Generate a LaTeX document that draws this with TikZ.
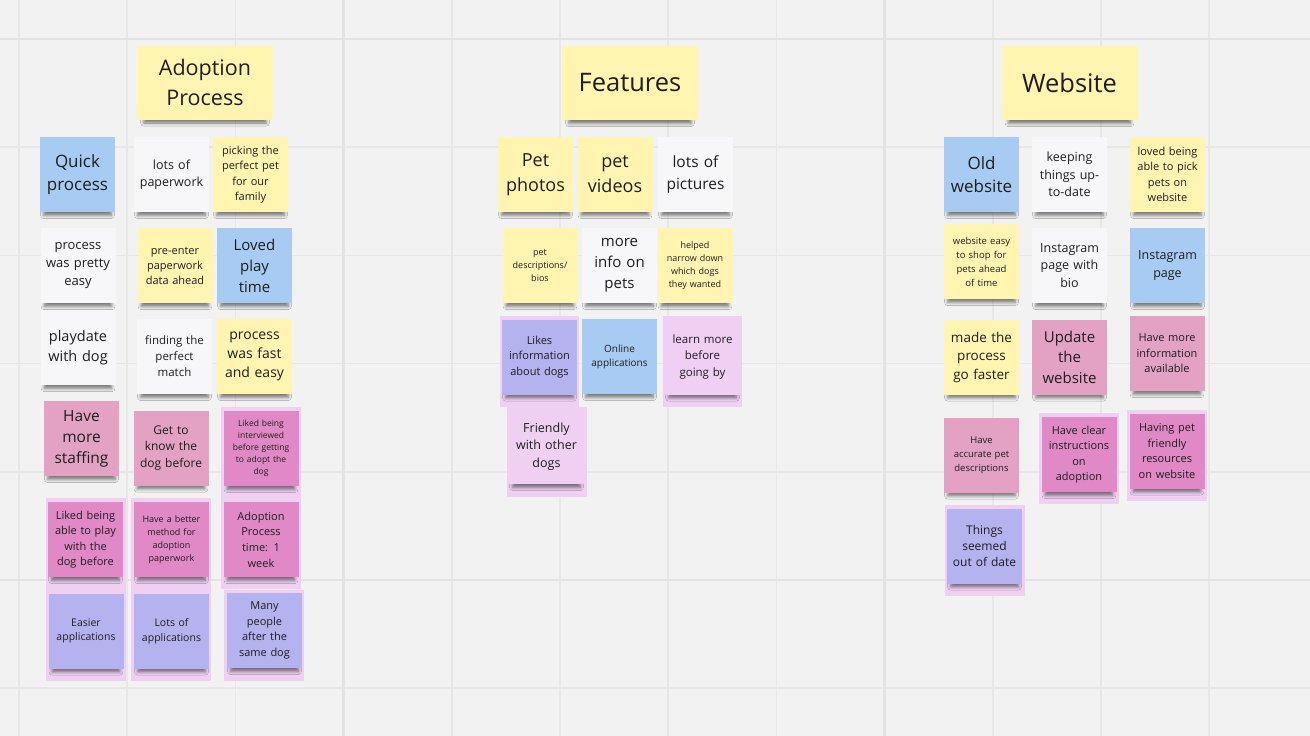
\documentclass[tikz,border=0pt]{standalone}
\usepackage{fontspec}
\setmainfont{Open Sans}
\usetikzlibrary{shadows.blur}
\definecolor{board}{HTML}{F2F2F2}
\definecolor{gridmin}{HTML}{E7E7E7}
\definecolor{gridmaj}{HTML}{E3E3E3}
\definecolor{ink}{HTML}{1E1E1E}
\definecolor{yel}{HTML}{FFF5B1}
\definecolor{blu}{HTML}{A8CBF3}
\definecolor{wht}{HTML}{F7F7F9}
\definecolor{pnk}{HTML}{E3A1C4}
\definecolor{mag}{HTML}{E189C7}
\definecolor{prp}{HTML}{B5B2F0}
\definecolor{lav}{HTML}{EFD0F3}

\begin{document}
\begin{tikzpicture}[x=1pt,y=-1pt,
    note/.style={rectangle,inner sep=0pt,minimum width=75pt,minimum height=75pt,
      text width=74pt,align=center,text=ink,
      blur shadow={shadow xshift=0pt,shadow yshift=-8pt,shadow scale=0.9,
        shadow opacity=50,shadow blur radius=3.5pt}},
    head/.style={note,fill=yel,minimum width=136pt,minimum height=74pt,text width=130pt},
    fs/.style 2 args={font=\fontsize{#1}{#2}\selectfont}]
  % board and grid
  \useasboundingbox (0,0) rectangle (1310,736);
  \fill[board] (0,0) rectangle (1310,736);
  \foreach \k in {0,...,11}
    \draw[gridmin,line width=1.5pt] (19+108.2*\k,0) -- (19+108.2*\k,736);
  \foreach \k in {0,...,6}
    \draw[gridmin,line width=1.5pt] (0,39+108.2*\k) -- (1310,39+108.2*\k);
  \foreach \k in {3,8}
    \draw[gridmaj,line width=2.5pt] (19+108.2*\k,0) -- (19+108.2*\k,736);
  \foreach \k in {0,5}
    \draw[gridmaj,line width=2.5pt] (0,39+108.2*\k) -- (1310,39+108.2*\k);

  % selection backgrounds
  \fill[lav] (46,498) rectangle (126,681);
  \fill[lav] (131,498) rectangle (211,681);
  \fill[lav] (221,407) rectangle (301,589);
  \fill[lav] (224,590) rectangle (304,681);
  \fill[lav] (500,316) rectangle (579,407);
  \fill[lav] (507,407) rectangle (587,497);
  \fill[lav] (663,316) rectangle (742,407);
  \fill[lav] (1039,413) rectangle (1119,504);
  \fill[lav] (1127,410) rectangle (1207,501);
  \fill[lav] (945,505) rectangle (1025,596);

  % headers
  \node[head,fs={21.5}{30}] (adopt) at (205,82.5) {Adoption\\Process};
  \node[head,fs={25.5}{34}] (feat) at (630,83) {Features};
  \node[head,fs={25.5}{34}] (web) at (1069.5,83) {Website};

  % adoption process
  \node[note,fill=blu,fs={17}{23}] (quick) at (77.5,174.5) {Quick\\process};
  \node[note,fill=wht,fs={12.5}{17}] (paper) at (171.5,174.5) {lots of\\paperwork};
  \node[note,fill=yel,fs={11}{15.3}] (pick) at (250.5,174.5) {picking the\\perfect pet\\for our\\family};
  \node[note,fill=wht,fs={13}{18}] (easy) at (78,265.5) {process\\was pretty\\easy};
  \node[note,fill=yel,fs={11}{15}] (preenter) at (175,265.5) {pre-enter\\paperwork\\data ahead};
  \node[note,fill=blu,fs={15}{21}] (loved) at (254.5,265.5) {Loved\\play\\time};
  \node[note,fill=wht,fs={14.5}{20}] (playdate) at (78,347.5) {playdate\\with dog};
  \node[note,fill=wht,fs={11.5}{16}] (finding) at (174.5,356.5) {finding the\\perfect\\match};
  \node[note,fill=yel,fs={14}{19}] (fast) at (254.5,356.5) {process\\was fast\\and easy};
  \node[note,fill=pnk,fs={15.5}{21}] (staff) at (81.5,438.5) {Have\\more\\staffing};
  \node[note,fill=pnk,fs={12}{16.5}] (getknow) at (171,448) {Get to\\know the\\dog before};
  \node[note,fill=mag,fs={8.5}{12}] (interview) at (261,448.5) {Liked being\\interviewed\\before getting\\to adopt the\\dog};
  \node[note,fill=mag,fs={11}{15.5}] (playbefore) at (85.5,539.5) {Liked being\\able to play\\with the\\dog before};
  \node[note,fill=mag,fs={9}{13}] (method) at (171.5,539.5) {Have a better\\method for\\adoption\\paperwork};
  \node[note,fill=mag,fs={11}{15.7}] (onewk) at (261,539.5) {Adoption\\Process\\time: 1\\week};
  \node[note,fill=prp,fs={10.5}{14.5}] (easier) at (86,631) {Easier\\applications};
  \node[note,fill=prp,fs={10.5}{14.5}] (lotsapp) at (171.5,631) {Lots of\\applications};
  \node[note,fill=prp,fs={11}{15.5}] (many) at (264.5,630.5) {Many\\people\\after the\\same dog};

  % features
  \node[note,fill=yel,fs={18}{25}] (photos) at (535.5,174.5) {Pet\\photos};
  \node[note,fill=yel,fs={18}{25}] (videos) at (615,174.5) {pet\\videos};
  \node[note,fill=wht,fs={15.5}{22}] (pictures) at (695.5,174.5) {lots of\\pictures};
  \node[note,fill=yel,fs={9}{13}] (bios) at (540,265.5) {pet\\descriptions/\\bios};
  \node[note,fill=wht,fs={15}{21}] (moreinfo) at (619.5,265.5) {more\\info on\\pets};
  \node[note,fill=yel,fs={9}{13}] (narrow) at (695,265.5) {helped\\narrow down\\which dogs\\they wanted};
  \node[note,fill=prp,fs={11}{15.5}] (likes) at (539.5,357) {Likes\\information\\about dogs};
  \node[note,fill=blu,fs={10}{14}] (online) at (619.5,356.5) {Online\\applications};
  \node[note,fill=lav,fs={11.5}{16.5}] (learn) at (702.5,357) {learn more\\before\\going by};
  \node[note,fill=lav,fs={12.5}{17.5}] (friendly) at (546.5,446.5) {Friendly\\with other\\dogs};

  % website
  \node[note,fill=blu,fs={17}{23}] (old) at (981.5,174.5) {Old\\website};
  \node[note,fill=wht,fs={12.5}{17.3}] (keeping) at (1069.5,174.5) {keeping\\things up-\\to-date};
  \node[note,fill=yel,fs={11}{15.5}] (lovedpick) at (1167.5,174.5) {loved being\\able to pick\\pets on\\website};
  \node[note,fill=yel,fs={9.5}{14}] (shop) at (981.5,261.5) {website easy\\to shop for\\pets ahead\\of time};
  \node[note,fill=wht,fs={12.5}{17.5}] (instabio) at (1069.5,265.5) {Instagram\\page with\\bio};
  \node[note,fill=blu,fs={12.5}{17.5}] (insta) at (1167.5,265.5) {Instagram\\page};
  \node[note,fill=yel,fs={13.5}{18.5}] (faster) at (981.5,357) {made the\\process\\go faster};
  \node[note,fill=pnk,fs={15}{20.5}] (update) at (1069.5,357) {Update\\the\\website};
  \node[note,fill=pnk,fs={11}{15.5}] (avail) at (1167,353.5) {Have more\\information\\available};
  \node[note,fill=pnk,fs={9.5}{14}] (accurate) at (981.5,455) {Have\\accurate pet\\descriptions};
  \node[note,fill=mag,fs={11}{15.3}] (clear) at (1079,454.5) {Have clear\\instructions\\on\\adoption};
  \node[note,fill=mag,fs={11}{15.5}] (resources) at (1167,451) {Having pet\\friendly\\resources\\on website};
  \node[note,fill=prp,fs={12}{16.3}] (outdate) at (984.5,546) {Things\\seemed\\out of date};
\end{tikzpicture}
\end{document}
